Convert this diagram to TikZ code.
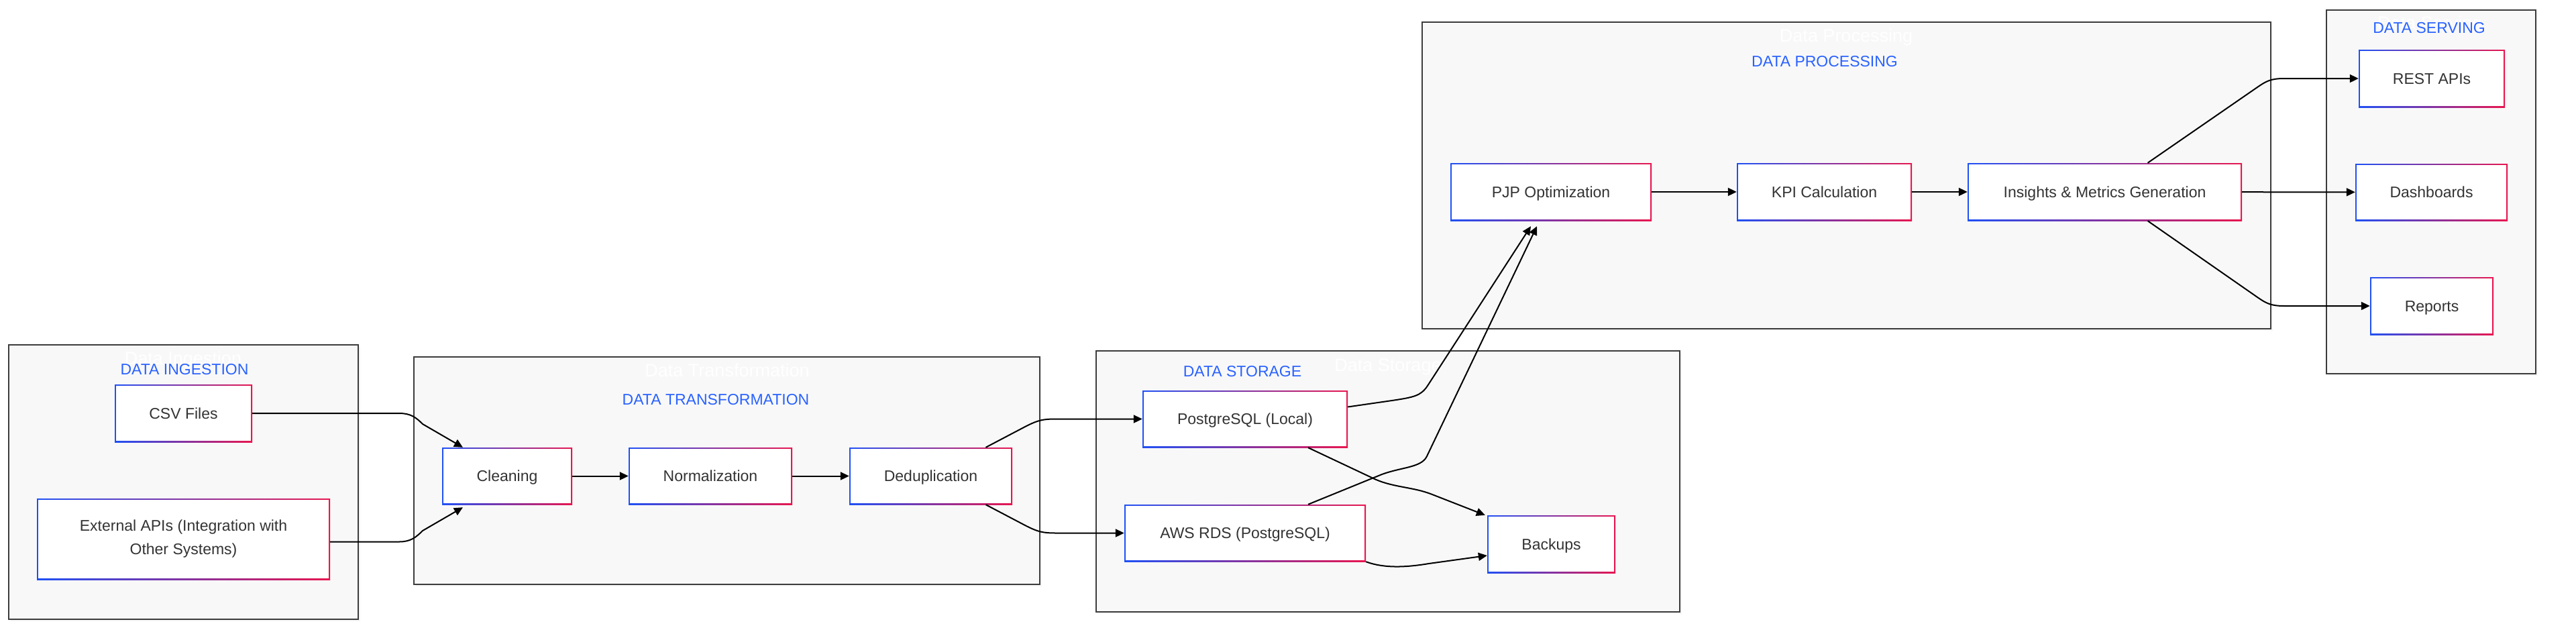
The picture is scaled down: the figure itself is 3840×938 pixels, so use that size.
\documentclass[tikz,border=0pt]{standalone}
\usepackage{fontspec}
\setmainfont{Liberation Sans}
\usetikzlibrary{arrows.meta,shadows,calc}
\definecolor{nblue}{HTML}{1F50F5}
\definecolor{nred}{HTML}{E8164F}
\definecolor{tblue}{HTML}{2962FF}
\definecolor{cfill}{HTML}{F8F8F8}
\definecolor{cline}{HTML}{3C3C3C}
\definecolor{ntext}{HTML}{333333}
\newcommand\myfont{\fontsize{23}{35}\selectfont}
\newcommand\ghostfont{\fontsize{27}{32}\selectfont}
\begin{document}
\begin{tikzpicture}[x=1pt,y=-1pt,
  cluster/.style={draw=cline, line width=2pt, fill=cfill,
    drop shadow={opacity=0.08, shadow xshift=3pt, shadow yshift=-3pt}},
  ttl/.style={anchor=base, text=tblue, font=\myfont, inner sep=0pt},
  ghost/.style={anchor=base, text=white, font=\ghostfont, inner sep=0pt},
  proc/.style={shape=rectangle, inner sep=0pt, left color=nblue, right color=nred,
    text=ntext, font=\myfont, align=center,
    path picture={\fill[white] ([shift={(2pt,-2pt)}]path picture bounding box.north west)
      rectangle ([shift={(-2pt,2pt)}]path picture bounding box.south east);}},
  oneline/.style={text height=16.5pt, text depth=0pt},
  conn/.style={draw=black, line width=2pt, -{Triangle[length=13pt,width=12pt]}}]
\useasboundingbox (0,0) rectangle (3840,938);
\fill[white] (0,0) rectangle (3840,938);

% clusters
\draw[cluster] (13,514) rectangle (534,923);
\draw[cluster] (617,532) rectangle (1550,871);
\draw[cluster] (1634,523) rectangle (2504,912);
\draw[cluster] (2120,33) rectangle (3385,490);
\draw[cluster] (3468,15) rectangle (3780,557);

% ghost labels
\node[ghost] (g1) at (273,543) {Data Ingestion};
\node[ghost] (g2) at (1084,561) {Data Transformation};
\node[ghost] (g3) at (2069,553) {Data Storage};
\node[ghost] (g4) at (2752,62) {Data Processing};
\node[ghost] (g5) at (3622,43) {Data Serving};

% titles
\node[ttl] (t1) at (275,558) {DATA INGESTION};
\node[ttl] (t2) at (1067,603) {DATA TRANSFORMATION};
\node[ttl] (t3) at (1852,561) {DATA STORAGE};
\node[ttl] (t4) at (2720,99) {DATA PROCESSING};
\node[ttl] (t5) at (3621,49) {DATA SERVING};

% nodes
\node[proc,oneline,minimum width=205pt,minimum height=86pt] (csv) at (273.5,616) {CSV Files};
\node[proc,minimum width=437pt,minimum height=121pt] (ext) at (273.5,803.5) {External APIs (Integration with\\Other Systems)};
\node[proc,oneline,minimum width=194pt,minimum height=85pt] (cleaning) at (756,709.5) {Cleaning};
\node[proc,oneline,minimum width=244pt,minimum height=85pt] (norm) at (1059,709.5) {Normalization};
\node[proc,oneline,minimum width=243pt,minimum height=85pt] (dedup) at (1387.5,709.5) {Deduplication};
\node[proc,oneline,minimum width=306pt,minimum height=85pt] (psql) at (1856,624.5) {PostgreSQL (Local)};
\node[proc,oneline,minimum width=360pt,minimum height=85pt] (aws) at (1856,794.5) {AWS RDS (PostgreSQL)};
\node[proc,oneline,minimum width=191pt,minimum height=86pt] (backups) at (2312.5,811) {Backups};
\node[proc,oneline,minimum width=300pt,minimum height=86pt] (pjp) at (2312,286) {PJP Optimization};
\node[proc,oneline,minimum width=261pt,minimum height=86pt] (kpi) at (2719.5,286) {KPI Calculation};
\node[proc,oneline,minimum width=409pt,minimum height=86pt] (ins) at (3137.5,286) {Insights \& Metrics Generation};
\node[proc,oneline,minimum width=218pt,minimum height=86pt] (rest) at (3625,117) {REST APIs};
\node[proc,oneline,minimum width=227pt,minimum height=85pt] (dash) at (3624.5,286.5) {Dashboards};
\node[proc,oneline,minimum width=184pt,minimum height=86pt] (reports) at (3625,456) {Reports};

% connectors
\draw[conn] (csv.east) -- (595,616) .. controls (612,616) and (620,622) .. (630,632) -- ([xshift=-66pt]cleaning.north);
\draw[conn] ([yshift=-4pt]ext.east) -- (595,807.5) .. controls (612,807.5) and (620,801) .. (630,791) -- ([xshift=-66pt,yshift=-4pt]cleaning.south);
\draw[conn] (cleaning) -- (norm);
\draw[conn] (norm) -- (dedup);
\draw[conn] ([xshift=82pt]dedup.north) -- (1530,635) .. controls (1548,626) and (1555,624.5) .. (1575,624.5) -- (psql.west);
\draw[conn] ([xshift=82pt]dedup.south) -- (1530,784) .. controls (1548,793) and (1555,794.5) .. (1575,794.5) -- (aws.west);
\draw[conn] ([yshift=18pt]psql.east) -- (2075,597) .. controls (2108,592) and (2118,590) .. (2128,575) -- ([xshift=-30pt,yshift=-8pt]pjp.south);
\draw[conn] ([xshift=94pt]aws.north) -- (2060,707) .. controls (2090,696) and (2119,697) .. (2127,680) -- ([xshift=-21pt,yshift=-8pt]pjp.south);
\draw[conn] ([xshift=94pt]psql.south) -- (2045,712) .. controls (2075,727) and (2105,725) .. (2135,737) -- ([xshift=-3pt]backups.north west);
\draw[conn] (aws.south east) .. controls (2065,848) and (2100,845) .. (2130,840) -- ([yshift=-17pt]backups.west);
\draw[conn] (pjp) -- (kpi);
\draw[conn] (kpi) -- (ins);
\draw[conn] ([xshift=64pt]ins.north) -- (3365,130) .. controls (3378,121) and (3385,117) .. (3405,117) -- (rest.west);
\draw[conn] (ins) -- (dash);
\draw[conn] ([xshift=64pt]ins.south) -- (3365,443) .. controls (3378,452) and (3385,456) .. (3405,456) -- (reports.west);
\end{tikzpicture}
\end{document}
